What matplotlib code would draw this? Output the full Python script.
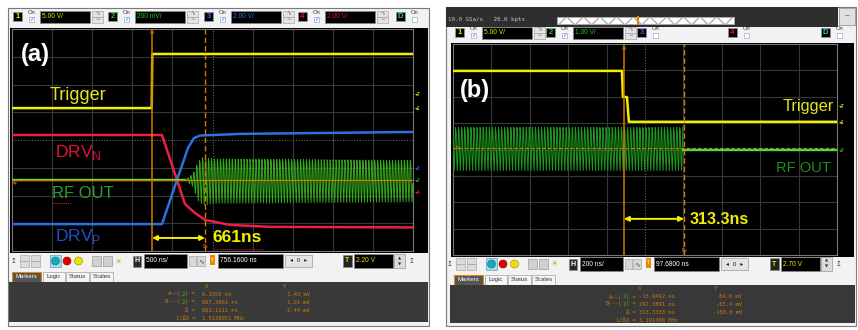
import numpy as np
import matplotlib.pyplot as plt
from matplotlib.patches import Rectangle, Circle

plt.rcParams['font.family'] = ['Liberation Sans', 'DejaVu Sans']
plt.rcParams['mathtext.fontset'] = 'custom'
plt.rcParams['mathtext.rm'] = 'Liberation Sans'

W, H = 858, 330
MONO = 'DejaVu Sans Mono'

# ---------------- panel (a): 500 ns/div, levels in divisions
a_time = (-1740, 3260)
a_cursors = [6.155, 667.2661]
a_ycursor = -1.44
trig_a_t = [-1740, 2, 9, 3260]
trig_a_v = [1.15, 1.15, 3.1, 3.1]
drvn_t = [-1740, 130, 317, 417, 542, 667, 978, 1477, 3260]
drvn_v = [0.18, 0.18, -1.44, -2.31, -2.63, -2.88, -3.06, -3.13, -3.15]
drvp_t = [-1740, 130, 317, 454, 529, 604, 1103, 3260]
drvp_v = [-3.03, -3.03, -1.44, -0.29, 0.07, 0.16, 0.22, 0.29]
rf_a_env_t = [-1740, 417, 517, 579, 642, 792, 3260]
rf_a_env_v = [0.0, 0.0, 0.25, 0.75, 0.92, 0.85, 0.8]
rf_a_base = -1.44
rf_a_period = 37.0

# ---------------- panel (b): 200 ns/div
b_time = (-906, 1094)
b_cursors = [-15.9442, 297.3891]
b_ycursor = 0.06
trig_b_t = [-906, -26, -21, 0, 10, 1094]
trig_b_v = [2.98, 2.98, 1.99, 1.99, 1.05, 1.05]
rf_b_stop = 292
rf_b_center = 0.06
rf_b_amp = 0.87
rf_b_after = -0.02
rf_b_period = 16.0

# ---------------- scope UI texts
a_channels = [('1', '5.00 V/', '#e8e800', 13), ('2', '200 mV/', '#22c822', 108),
              ('3', '2.00 V/', '#2f6fe0', 204), ('4', '2.00 V/', '#e0103a', 298)]
b_channels = [('1', '5.00 V/', '#e8e800', 455), ('2', '1.00 V/', '#22c822', 546)]
b_channels_off = [('3', '#2f6fe0', 637), ('4', '#e0103a', 728)]
marker_labels = ['A\u2014\u2014(2) =', 'B---(2) =', '\u0394 =', '1/\u0394X =']
a_marker_x = ['6.1550 ns', '667.2661 ns', '661.1111 ns', '1.5126051 MHz']
a_marker_y = ['-1.43 mV', '1.01 mV', '2.44 mV', '']
b_marker_x = ['-15.9442 ns', '297.3891 ns', '313.3333 ns', '3.191490 MHz']
b_marker_y = ['84.6 mV', '-65.4 mV', '-150.0 mV', '']
tab_names = ['Markers', 'Logic', 'Status', 'Scales']

YEL = '#f0f000'
ORG = '#d97a00'
MORG = '#c8780a'

fig = plt.figure(figsize=(W / 100, H / 100), dpi=100, facecolor='white')
ui = fig.add_axes([0, 0, 1, 1], zorder=0)
ui.set_xlim(0, W)
ui.set_ylim(H, 0)
ui.axis('off')


def rect(x0, y0, x1, y1, fc, ec='none', lw=0.5, ax=None, **kw):
    (ax or ui).add_patch(Rectangle((x0, y0), x1 - x0, y1 - y0, fc=fc, ec=ec, lw=lw, **kw))


def txt(x, y, s, c='black', fs=5, ha='left', ax=None, **kw):
    (ax or ui).text(x, y, s, color=c, fontsize=fs, ha=ha, va='center', **kw)


def channel(bx, y, num, col, scale=None, on=True):
    rect(bx, y, bx + 9, y + 9, 'black', ec='#9a9a9a')
    txt(bx + 4.5, y + 4.6, num, col, 5.5, ha='center', weight='bold')
    txt(bx + 15, y + 0.5, 'On', '#333', 4.2)
    rect(bx + 16, y + 5, bx + 21, y + 10, 'white', ec='#7d9ccc', lw=0.4)
    if on:
        txt(bx + 18.5, y + 7.5, '\u2713', '#2a5cc0', 4, ha='center', family='DejaVu Sans')
    if scale:
        rect(bx + 27, y - 1, bx + 77, y + 11, 'black', ec='#888')
        txt(bx + 29, y + 5, scale, col, 4.8)
        rect(bx + 79, y - 1, bx + 90, y + 4.8, '#e4e4e4', ec='#999', lw=0.4)
        rect(bx + 79, y + 5.2, bx + 90, y + 11, '#e4e4e4', ec='#999', lw=0.4)
        txt(bx + 84.5, y + 1.9, '\u223f', '#666', 4, ha='center', family='DejaVu Sans')
        txt(bx + 84.5, y + 8.1, '\u223c', '#666', 4, ha='center', family='DejaVu Sans')


def control_bar(ox, yc, hscale, hpos, tx, tlevel):
    txt(ox + 14, yc, '\u21a5', '#444', 5, ha='center', family='DejaVu Sans')
    for x in (ox + 20, ox + 31):
        rect(x, yc - 6, x + 9, yc, '#dcdcdc', ec='#999', lw=0.4)
        rect(x, yc, x + 9, yc + 6, '#dcdcdc', ec='#999', lw=0.4)
    rect(ox + 50, yc - 6, ox + 61, yc + 6, '#a8dce8', ec='#5aa', lw=0.5)
    ui.add_patch(Circle((ox + 55.5, yc), 4, fc='#18a8c0', ec='#0a6a80', lw=0.4, zorder=3))
    ui.add_patch(Circle((ox + 67, yc), 4, fc='#e00000', ec='#800', lw=0.4, zorder=3))
    ui.add_patch(Circle((ox + 78.5, yc), 4, fc='#f0e000', ec='#880', lw=0.4, zorder=3))
    for x in (ox + 92, ox + 103):
        rect(x, yc - 5, x + 9, yc + 5, '#d0d0d0', ec='#888', lw=0.4)
    txt(ox + 118, yc, '\u2600', '#d8b400', 6, ha='center', family='DejaVu Sans')
    rect(ox + 133, yc - 5.5, ox + 141, yc + 5.5, '#2a2a2a', ec='#888')
    txt(ox + 137, yc, 'H', 'white', 5, ha='center', weight='bold')
    rect(ox + 144, yc - 7, ox + 187, yc + 7, 'black', ec='#888')
    txt(ox + 146, yc, hscale, 'white', 4.8)
    rect(ox + 189, yc - 5, ox + 196, yc + 5, '#d8d8d8', ec='#999', lw=0.4)
    rect(ox + 197, yc - 5, ox + 205, yc + 5, '#d8d8d8', ec='#999', lw=0.4)
    txt(ox + 201, yc, '\u223f', '#555', 5, ha='center', family='DejaVu Sans')
    rect(ox + 210, yc - 6, ox + 215, yc + 4, '#e88a00')
    txt(ox + 212.5, yc - 1, '\u2191', 'white', 4, ha='center', family='DejaVu Sans')
    rect(ox + 218, yc - 7, ox + 283, yc + 7, 'black', ec='#888')
    txt(ox + 220, yc, hpos, 'white', 4.8)
    rect(ox + 285, yc - 6, ox + 312, yc + 6, '#e4e4e4', ec='#999')
    txt(ox + 298.5, yc, '\u25c2  0  \u25b8', '#222', 4.2, ha='center', family='DejaVu Sans')
    rect(tx, yc - 6, tx + 9, yc + 6, '#222', ec='#888')
    txt(tx + 4.5, yc, 'T', '#e8e800', 5, ha='center', weight='bold')
    rect(tx + 11, yc - 7, tx + 50, yc + 7, 'black', ec='#888')
    txt(tx + 13, yc, tlevel, '#e8e800', 4.8)
    rect(tx + 51, yc - 7, tx + 62, yc + 7, '#dcdcdc', ec='#999')
    txt(tx + 56.5, yc - 3, '\u25b2', '#333', 3, ha='center', family='DejaVu Sans')
    txt(tx + 56.5, yc + 3, '\u25bc', '#333', 3, ha='center', family='DejaVu Sans')
    txt(tx + 69, yc, '\u21a5', '#444', 5, ha='center', family='DejaVu Sans')


def tabs(ox, y0):
    xs = [(0, 29), (31, 53), (54, 77), (78, 101)]
    for i, (name, (a, b)) in enumerate(zip(tab_names, xs)):
        if i == 0:
            rect(ox + a, y0, ox + b, y0 + 10, '#555555', ec='#e08a00', lw=0.8)
            txt(ox + (a + b) / 2, y0 + 5, name, 'white', 4.3, ha='center')
        else:
            rect(ox + a, y0, ox + b, y0 + 10, '#f4f4f4', ec='#a0a0a0', lw=0.5)
            txt(ox + (a + b) / 2, y0 + 5, name, '#333', 4.3, ha='center')


def markers(x_lab, x_val, x_yval, hx, hy, rows_y, xs, ys):
    cw = 4 * 100 / 72 * 0.602
    txt(hx, rows_y[0], 'X', MORG, 4, family=MONO)
    txt(hy, rows_y[0], 'Y', MORG, 4, family=MONO)
    for lab, xv, yv, y in zip(marker_labels, xs, ys, rows_y[1:]):
        x0 = x_lab - len(lab) * cw
        if '(2)' in lab:
            k = lab.index('2')
            txt(x0, y, lab[:k], MORG, 4, family=MONO)
            txt(x0 + k * cw, y, '2', '#22c822', 4, family=MONO)
            txt(x0 + (k + 1) * cw, y, lab[k + 1:], MORG, 4, family=MONO)
        else:
            txt(x_lab, y, lab, MORG, 4, ha='right', family=MONO)
        txt(x_val, y, xv, MORG, 4, family=MONO)
        txt(x_yval, y, yv, MORG, 4, ha='right', family=MONO)


def scope(px, tlim):
    x0, y0, x1, y1 = px
    ax = fig.add_axes([x0 / W, 1 - y1 / H, (x1 - x0) / W, (y1 - y0) / H], zorder=2)
    ax.set_facecolor('black')
    ax.set_xlim(tlim)
    ax.set_ylim(-4, 4)
    div = (tlim[1] - tlim[0]) / 10
    for k in range(1, 10):
        if k != 5:
            ax.axvline(tlim[0] + k * div, color='#383838', lw=0.8, zorder=0)
    for k in range(-3, 4):
        if k != 0:
            ax.axhline(k, color='#383838', lw=0.8, zorder=0)
    ax.axvline(tlim[0] + 5 * div, color='#606060', lw=0.8, ls=(0, (1, 1.5)), zorder=0)
    ax.axhline(0, color='#606060', lw=0.8, ls=(0, (1, 1.5)), zorder=0)
    ax.set_xticks([])
    ax.set_yticks([])
    for s in ax.spines.values():
        s.set_color('#777777')
        s.set_linewidth(0.8)
    return ax


def cursors(ax, xs, yc, hls, y_arrow):
    ax.axvline(xs[0], color=ORG, lw=1.1, zorder=4)
    ax.axvline(xs[1], color=ORG, lw=1.0, ls=(0, (4, 2)), zorder=4)
    ax.axhline(yc, color=ORG, lw=0.8, ls=hls, zorder=4)
    ax.annotate('', xy=(xs[1], y_arrow), xytext=(xs[0], y_arrow),
                arrowprops=dict(arrowstyle='<|-|>', color=YEL, lw=1.4,
                                mutation_scale=7, shrinkA=0, shrinkB=0), zorder=5)


# ---------------- panel frames
rect(8, 8, 429, 326, '#f2f2f2', ec='#7a7a7a', lw=0.8)
rect(446, 7, 856, 326, '#f2f2f2', ec='#7a7a7a', lw=0.8)
rect(446, 7, 838, 27, '#2e2e2e')
txt(448, 20, '10.0 GSa/s   20.0 kpts', '#c8c8c8', 4.2, family=MONO)
rect(557, 17, 734, 24, 'white', ec='#b0b0b0', lw=0.5, hatch='xx')
rect(637.3, 16, 639, 24.5, '#e08000')
rect(839, 8, 855, 25, '#e0e0e0', ec='#888')
txt(847, 16, '\u2013', '#333', 6, ha='center')

for num, scale, col, bx in a_channels:
    channel(bx, 12, num, col, scale)
channel(396, 12, 'D', '#20c8d8', None, on=False)
for num, scale, col, bx in b_channels:
    channel(bx, 28, num, col, scale)
for num, col, bx in b_channels_off:
    channel(bx, 28, num, col, None, on=False)
channel(821, 28, 'D', '#20c8d8', None, on=False)

rect(10, 28, 428, 253, 'black')
rect(451, 43, 854, 257, 'black')

control_bar(0, 261, '500 ns/', '756.1600 ns', 343, '2.20 V')
control_bar(436, 264, '200 ns/', '97.6800 ns', 770, '2.70 V')
tabs(12, 271.5)
tabs(454, 274.5)
rect(9, 282, 428, 322, '#3a3a3a')
rect(450, 285, 855, 323, '#383838')
markers(195, 202, 310, 205, 283, [286, 294, 302, 310, 318], a_marker_x, a_marker_y)
markers(636, 639, 742, 638, 714, [289, 297, 304, 312, 320], b_marker_x, b_marker_y)

# ---------------- scope screens
axa = scope((12, 29, 413, 251), a_time)
axa.plot(trig_a_t, trig_a_v, color=YEL, lw=1.8, zorder=3)
axa.plot(drvn_t, drvn_v, color='#ee1c4a', lw=1.8, zorder=3)
axa.plot(drvp_t, drvp_v, color='#2b72e0', lw=1.8, zorder=3)
t = np.arange(a_time[0], a_time[1], rf_a_period / 5)
env = np.interp(t, rf_a_env_t, rf_a_env_v)
axa.plot(t, rf_a_base + env * np.sin(2 * np.pi * t / rf_a_period), color='#34a81c', lw=0.7, zorder=3)
axa.plot(rf_a_env_t[:2], [rf_a_base, rf_a_base], color='#70e020', lw=1.7, zorder=3)
cursors(axa, a_cursors, a_ycursor, '-', -3.53)

axb = scope((453, 44, 837, 255), b_time)
axb.plot(trig_b_t, trig_b_v, color=YEL, lw=1.8, zorder=3)
t = np.arange(b_time[0], rf_b_stop, rf_b_period / 5)
axb.plot(t, rf_b_center + rf_b_amp * np.sin(2 * np.pi * t / rf_b_period), color='#1e981e', lw=0.7, zorder=3)
axb.plot([rf_b_stop, b_time[1]], [rf_b_after, rf_b_after], color='#40e040', lw=1.7, zorder=3)
cursors(axb, b_cursors, b_ycursor, (0, (3, 2)), -2.63)

# ---------------- overlay labels
top = fig.add_axes([0, 0, 1, 1], zorder=5)
top.set_xlim(0, W)
top.set_ylim(H, 0)
top.axis('off')

txt(21, 55, '(a)', 'white', 17, ax=top, weight='bold')
txt(50, 95, 'Trigger', '#e6e61e', 13, ax=top)
txt(55, 152, r'DRV$_\mathregular{N}$', '#e8103a', 12.5, ax=top)
txt(52, 194, 'RF OUT', '#2e9e2e', 12, ax=top)
txt(55, 236, r'DRV$_\mathregular{P}$', '#2050c8', 12.5, ax=top)
txt(212, 238, '661ns', YEL, 12.5, ax=top, weight='bold')
top.plot([52, 70], [203, 203], color='#e02020', lw=0.7, ls=(0, (1, 1)))
top.plot([213, 263], [249, 249], color='#e02020', lw=0.7, ls=(0, (1, 1)))

txt(460, 90, '(b)', 'white', 17, ax=top, weight='bold')
txt(783, 107, 'Trigger', '#e6e61e', 11.8, ax=top)
txt(776, 168, 'RF OUT', '#1f8f1f', 10.5, ax=top)
txt(690, 219, '313.3ns', YEL, 11.5, ax=top, weight='bold')

# cursor tags and channel markers
txt(150, 33, 'Ax', ORG, 3.5, ax=top)
txt(203, 246, 'Bx', ORG, 3.5, ax=top)
txt(13, 183, 'Ay', ORG, 3.2, ax=top)
txt(622, 48, 'Ax', ORG, 3.5, ax=top)
txt(682, 251, 'Bx', ORG, 3.5, ax=top)
txt(456, 148, 'Ay', ORG, 3.2, ax=top)
for y, s, c in [(95, '\u25c2T', YEL), (108, '\u25c21', YEL), (168, '\u25c23', '#2b72e0'),
                (180, '\u25c22', '#3cc420'), (192, '\u25c24', '#ee1c4a')]:
    txt(415, y, s, c, 3.8, ax=top, family='DejaVu Sans')
for y, s, c in [(107, '\u25c2T', YEL), (122, '\u25c21', YEL), (150, '\u25c22', '#3cc420')]:
    txt(839, y, s, c, 3.8, ax=top, family='DejaVu Sans')

fig.savefig('out.png', dpi=100, facecolor='white')
